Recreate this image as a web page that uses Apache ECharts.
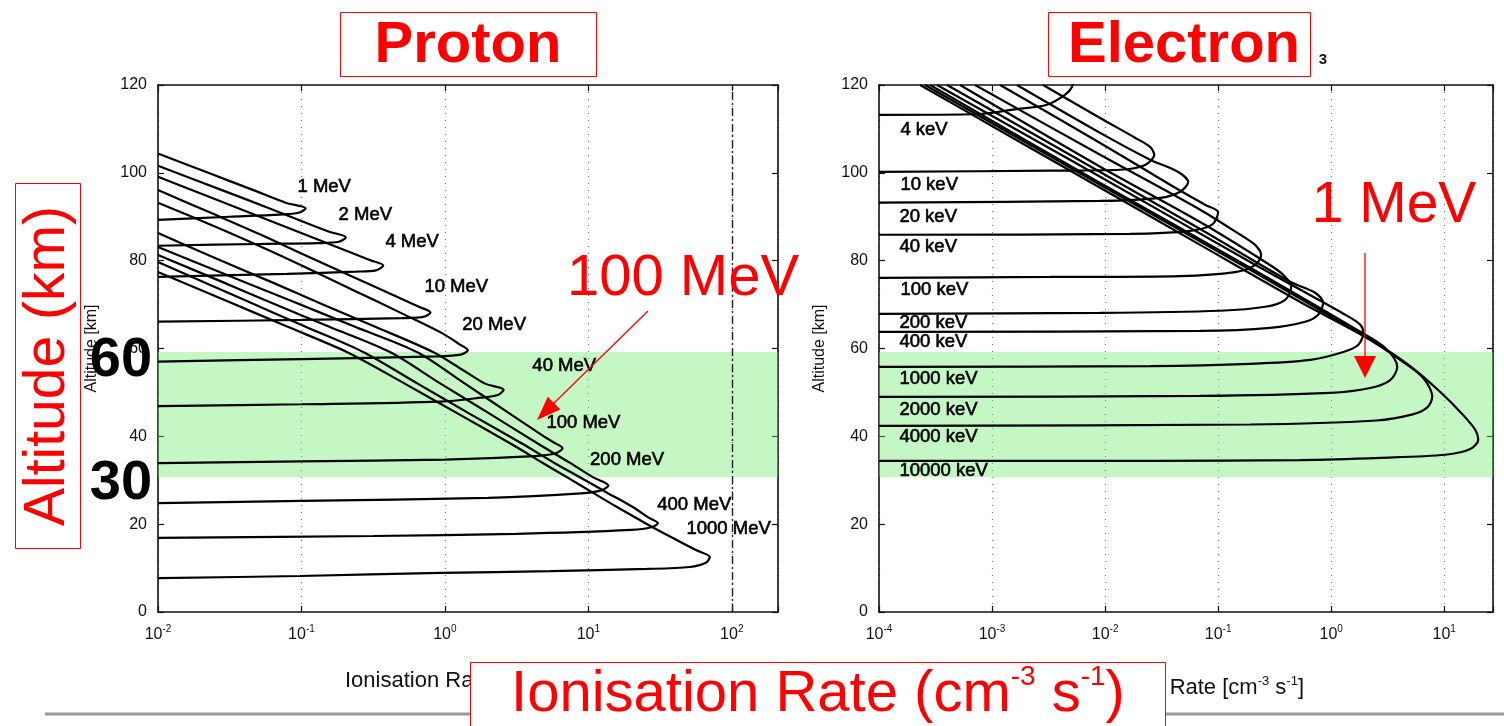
<!DOCTYPE html>
<html><head><meta charset="utf-8">
<script src="https://cdn.jsdelivr.net/npm/echarts@6/dist/echarts.min.js"></script>
<style>html,body{margin:0;padding:0;background:#fff}#c{width:1504px;height:726px}</style>
</head><body><div id="c"></div>
<script>
// ---------------- Proton ionisation profiles: [rate (cm^-3 s^-1), altitude (km)] ----------------
const protonNames = ['1 MeV','2 MeV','4 MeV','10 MeV','20 MeV','40 MeV','100 MeV','200 MeV','400 MeV','1000 MeV'];
const p1MeV = [[0.01,104.4],[0.0224,100],[0.0468,96],[0.0776,93.2],[0.107,91.9],[0.0955,90.9],[0.0708,90.5],[0.0316,90.0],[0.01,89.3]];
const p2MeV = [[0.01,101.6],[0.0282,96],[0.0589,92],[0.120,88],[0.156,86.6],[0.204,85.3],[0.182,84.3],[0.132,84.0],[0.0501,83.8],[0.01,83.4]];
const p4MeV = [[0.01,99.1],[0.0209,95],[0.0513,90],[0.126,85],[0.257,81],[0.302,80.1],[0.372,78.9],[0.331,77.8],[0.240,77.5],[0.0794,77.0],[0.01,76.3]];
const p10MeV = [[0.01,96.1],[0.0229,91],[0.0513,86],[0.110,81],[0.240,76],[0.447,72],[0.646,69.6],[0.794,68.2],[0.708,67.2],[0.501,66.9],[0.1,66.5],[0.01,66.1]];
const p20MeV = [[0.01,93.2],[0.0240,88],[0.0537,83],[0.115,78],[0.240,73],[0.501,68],[0.955,63.5],[1.259,61],[1.445,59.6],[1.288,58.6],[0.891,58.2],[0.1,57.6],[0.01,57.0]];
const p40MeV = [[0.01,86.3],[0.0234,81],[0.0631,75],[0.141,70],[0.324,65],[0.826,59.2],[1.349,55],[1.905,52],[2.57,50.6],[2.34,49.4],[1.78,48.8],[0.933,47.9],[0.1,47.3],[0.01,46.9]];
const p100MeV = [[0.01,83.1],[0.0269,77.4],[0.0813,71.1],[0.234,65],[0.638,59.2],[1.380,52],[2.884,45],[4.898,40],[5.754,38.6],[6.607,37.3],[5.89,36.1],[4.17,35.5],[1.0,34.7],[0.1,34.3],[0.01,33.9]];
const p200MeV = [[0.01,81.3],[0.0288,75],[0.0550,71.1],[0.155,65],[0.414,59.2],[0.933,52],[2.089,45],[4.467,38.3],[7.413,34],[10.74,30.7],[13.8,28.8],[12.3,27.7],[8.91,27.0],[2.0,26.0],[0.1,25.3],[0.01,24.8]];
const p400MeV = [[0.01,79.7],[0.0398,71.1],[0.106,65],[0.269,59.2],[0.646,52],[1.514,45],[3.467,38.3],[5.754,34],[8.730,30.7],[13.80,27],[20.42,23.9],[26.30,21.5],[30.55,20.2],[27.5,19.3],[20.0,18.7],[3.16,17.8],[0.316,17.3],[0.01,16.9]];
const p1000MeV = [[0.01,77.4],[0.0288,71.1],[0.0794,65],[0.207,59.2],[0.525,52],[1.259,45],[2.884,38.3],[4.786,34],[7.079,30.7],[10.96,27],[15.85,23.9],[25.70,20],[38.02,17],[56.23,14.1],[70.3,12.5],[65.9,11.2],[50.9,10.25],[25.6,9.8],[5.40,9.3],[0.938,8.9],[0.0977,8.2],[0.01,7.7]];
const protonLabelAnchors = [[0.0931,96.8],[0.180,90.4],[0.382,84.3],[0.714,74.0],[1.31,65.4],[4.04,56.0],[5.06,43.1],[10.2,34.6],[30.0,24.4],[47.9,18.9]];

// ---------------- Electron ionisation profiles ----------------
const electronNames = ['4 keV','10 keV','20 keV','40 keV','100 keV','200 keV','400 keV','1000 keV','2000 keV','4000 keV','10000 keV'];
const e4keV = [[0.0001,113.2],[0.000783,113.4],[0.00153,114.4],[0.00307,115.5],[0.00443,117.8],[0.0051,119.6],[0.00525,122]];
const e10keV = [[0.00283,120],[0.00904,112.5],[0.0184,108.0],[0.0250,105.9],[0.0272,104.1],[0.0226,101.8],[0.0136,100.7],[0.00326,100.5],[0.0001,100.2]];
const e20keV = [[0.00166,120],[0.00904,109.1],[0.0250,103.0],[0.0443,100.2],[0.0543,97.9],[0.0461,95.7],[0.0307,94.3],[0.00904,93.6],[0.0001,93.2]];
const e40keV = [[0.00118,120],[0.00904,106.8],[0.0376,97.3],[0.0767,92.7],[0.1,91.0],[0.0885,88.2],[0.0565,86.8],[0.0166,86.1],[0.0001,85.9]];
const e100keV = [[0.000708,120],[0.00904,104.1],[0.0693,91.6],[0.157,85.9],[0.212,83.6],[0.240,81.3],[0.212,79.0],[0.141,77.4],[0.0461,76.5],[0.00326,76.3],[0.0001,76.1]];
const e200keV = [[0.000521,120],[0.00904,101.4],[0.0693,88.8],[0.261,79.7],[0.376,76.8],[0.443,74.0],[0.392,71.1],[0.261,69.5],[0.104,68.6],[0.00904,68.1],[0.0001,67.9]];
const e400keV = [[0.000400,120],[0.00904,100.2],[0.0693,87.2],[0.434,75.2],[0.721,72.7],[0.849,70.4],[0.767,67.7],[0.589,66.1],[0.288,64.7],[0.0693,64.0],[0.0001,63.8]];
const e1000keV = [[0.000326,120],[0.00904,99.1],[0.192,79.7],[1.33,67.7],[1.81,65.4],[1.92,63.5],[1.73,60.8],[1.28,59.2],[0.652,57.4],[0.192,56.5],[0.0251,56.0],[0.0001,55.8]];
const e2000keV = [[0.000283,120],[0.00904,97.7],[0.192,78.4],[1.81,63.8],[3.01,60.1],[3.84,55.8],[3.33,52.8],[2.21,51.0],[0.979,49.9],[0.0693,49.2],[0.0001,49.0]];
const e4000keV = [[0.000255,120],[0.00904,97.3],[0.192,77.9],[2.21,62.0],[4.08,57.4],[6.52,53.3],[7.83,49.0],[7.08,46.6],[5.25,45.0],[2.51,43.6],[0.192,42.7],[0.0001,42.4]];
const e10000keV = [[0.000231,120],[0.00118,109.6],[0.00904,96.6],[0.0693,83.6],[0.532,70.6],[2.21,62.0],[5.0,56.0],[9.23,50.1],[14.4,45.1],[18.8,41.5],[20.0,39.2],[17.0,37.1],[10.2,35.8],[2.72,35.1],[0.532,34.6],[0.0251,34.4],[0.0001,34.4]];
const electronLabelAnchors = [[0.000153,109.8],[0.000153,97.3],[0.00015,90.0],[0.00015,83.1],[0.000153,73.3],[0.00015,65.8],[0.00015,61.5],[0.00015,53.1],[0.00015,46.0],[0.00015,39.9],[0.00015,32.1]];

// ---------------- Axes / band values ----------------
const protonXRange = [0.01, 210];
const electronXRange = [0.0001, 27];
const altitudeTicks = [0, 120, 20]; // min, max, step
const highlightBand = [59.2, 30.7]; // km
const protonRefLine = [100];

const FF = '"Liberation Sans", Arial, Helvetica, sans-serif';
const INK = '#111';

function powLabel(v){
  const e = Math.log10(v), r = Math.round(e);
  if (Math.abs(e - r) > 1e-6) return '';
  return '{b|10}{s|' + r + '}';
}
const tickRich = {
  b:{fontSize:16, fontFamily:FF, color:INK, lineHeight:22},
  s:{fontSize:10, fontFamily:FF, color:INK, verticalAlign:'top', lineHeight:12}
};
const axisLineStyle = {lineStyle:{color:INK, width:1.6}};

function xAx(grid, range, pos){
  const bottom = pos === 'bottom';
  return {
    type:'log', gridIndex:grid, position:pos, min:range[0], max:range[1], logBase:10,
    axisLine:{show:true, onZero:false, ...axisLineStyle},
    axisTick:{show:true, inside:true, length:6, lineStyle:{color:INK, width:1.2}},
    axisLabel:{show:bottom, margin:12, formatter:powLabel, rich:tickRich},
    splitLine:{show:bottom, lineStyle:{color:'#777', type:[1,6], width:1.2}}
  };
}
function yAx(grid, pos, gap){
  const left = pos === 'left';
  return {
    type:'value', gridIndex:grid, position:pos, min:altitudeTicks[0], max:altitudeTicks[1], interval:altitudeTicks[2],
    axisLine:{show:true, onZero:false, ...axisLineStyle},
    axisTick:{show:true, inside:true, length:6, lineStyle:{color:INK, width:1.2}},
    axisLabel:{show:left, margin:11, fontSize:16, fontFamily:FF, color:INK},
    splitLine:{show:false},
    name: left ? 'Altitude [km]' : '', nameLocation:'middle', nameRotate:90, nameGap:gap,
    nameTextStyle:{fontSize:16, fontFamily:FF, color:INK}
  };
}

const series = [];
function addCurves(list, xi, yi){
  list.forEach(d => series.push({
    type:'line', xAxisIndex:xi, yAxisIndex:yi, data:d, showSymbol:false, smooth:0.3,
    lineStyle:{color:'#000', width:2.2}, z:2, silent:true
  }));
}
addCurves([p1MeV,p2MeV,p4MeV,p10MeV,p20MeV,p40MeV,p100MeV,p200MeV,p400MeV,p1000MeV], 0, 0);
addCurves([e4keV,e10keV,e20keV,e40keV,e100keV,e200keV,e400keV,e1000keV,e2000keV,e4000keV,e10000keV], 2, 2);

function addLabels(names, anchors, xi, yi){
  series.push({
    type:'scatter', xAxisIndex:xi, yAxisIndex:yi, symbolSize:1, itemStyle:{color:'rgba(0,0,0,0)'}, z:3, silent:true,
    data: anchors.map((p,i)=>({name:names[i], value:p})),
    label:{show:true, position:'right', distance:0, formatter:'{b}', fontSize:18.5, fontFamily:FF, color:'#000',
      textBorderColor:'#000', textBorderWidth:0.6, opacity:1}
  });
}
addLabels(protonNames, protonLabelAnchors, 0, 0);
addLabels(electronNames, electronLabelAnchors, 2, 2);

// reference dashed line at 10^2 on proton panel
series.push({type:'line', xAxisIndex:0, yAxisIndex:0, data:[[1,-10]], showSymbol:false, lineStyle:{opacity:0}, z:1, silent:true,
  markLine:{silent:true, symbol:'none', label:{show:false}, lineStyle:{color:'#222', type:[8,3,2,3], width:1.4},
    data: protonRefLine.map(v=>({xAxis:v}))}});

// green highlight band
[[0,0],[2,2]].forEach(([xi,yi]) => series.push({
  type:'line', xAxisIndex:xi, yAxisIndex:yi, data:[[1,-10]], showSymbol:false, lineStyle:{opacity:0}, z:10, silent:true,
  markArea:{silent:true, itemStyle:{color:'rgba(110,235,110,0.40)'}, data:[[{yAxis:highlightBand[0]},{yAxis:highlightBand[1]}]]}
}));

function txt(x, y, text, font, fill, extra){
  return Object.assign({type:'text', x, y, z:60, style:{text, font, fill, align:'center', verticalAlign:'middle', textAlign:'center', textVerticalAlign:'middle'}}, extra||{});
}
const smallRich = {
  a:{fontSize:22, fontFamily:FF, color:INK, fill:INK, lineHeight:26},
  s:{fontSize:13, fontFamily:FF, color:INK, fill:INK, verticalAlign:'top', lineHeight:16}
};
const xNameText = '{a|Ionisation Rate [cm}{s|-3}{a| s}{s|-1}{a|]}';

const graphic = [
  {type:'line', z:50, shape:{x1:45, y1:714, x2:1504, y2:714}, style:{stroke:'#9a9a9a', lineWidth:3}},
  // original axis names (mostly hidden behind the big red label)
  {type:'text', x:345, y:681, z:55, style:{text:xNameText, rich:smallRich, align:'left', verticalAlign:'middle', textAlign:'left', textVerticalAlign:'middle'}},
  {type:'text', x:1304, y:688, z:55, style:{text:xNameText, rich:smallRich, align:'right', verticalAlign:'middle', textAlign:'right', textVerticalAlign:'middle'}},
  // Proton box
  {type:'rect', z:59, shape:{x:340.5, y:12.5, width:256, height:64}, style:{fill:'#fff', stroke:'#f00', lineWidth:1}},
  txt(468, 46, 'Proton', 'bold 58px ' + FF, '#f00'),
  // Electron box
  {type:'rect', z:59, shape:{x:1048.5, y:12.5, width:262, height:64}, style:{fill:'#fff', stroke:'#f00', lineWidth:1}},
  txt(1184, 46, 'Electron', 'bold 58px ' + FF, '#f00'),
  txt(1323, 60, '3', 'bold 15px ' + FF, INK),
  // Altitude box
  {type:'rect', z:59, shape:{x:15.5, y:183.5, width:65, height:365}, style:{fill:'rgba(255,255,255,0)', stroke:'#f00', lineWidth:1}},
  txt(48, 366, 'Altitude (km)', '57px ' + FF, '#f00', {rotation:Math.PI/2}),
  // big 60 / 30
  txt(121, 361, '60', 'bold 56px ' + FF, '#000'),
  txt(121, 484, '30', 'bold 56px ' + FF, '#000'),
  // x label box
  {type:'rect', z:59, shape:{x:470.5, y:662.5, width:695, height:70}, style:{fill:'#fff', stroke:'#f00', lineWidth:1}},
  {type:'text', x:818, y:695, z:60, style:{
    text:'{a|Ionisation Rate (cm}{s|-3}{a| s}{s|-1}{a|)}', align:'center', verticalAlign:'middle', textAlign:'center', textVerticalAlign:'middle',
    rich:{a:{fontSize:58, fontFamily:FF, fill:'#f00', color:'#f00', lineHeight:64}, s:{fontSize:28, fontFamily:FF, fill:'#f00', color:'#f00', verticalAlign:'top', lineHeight:42}}
  }},
  // 100 MeV annotation
  txt(683, 279, '100 MeV', '58px ' + FF, '#f00'),
  {type:'line', z:60, shape:{x1:648, y1:311, x2:550, y2:407}, style:{stroke:'#f00', lineWidth:1.3}},
  {type:'polygon', z:60, shape:{points:[[537,420],[560.4,409.6],[547.8,396.8]]}, style:{fill:'#f00'}},
  // 1 MeV annotation
  txt(1394, 206, '1 MeV', '57px ' + FF, '#f00'),
  {type:'line', z:60, shape:{x1:1365, y1:253, x2:1365, y2:360}, style:{stroke:'#f00', lineWidth:1.3}},
  {type:'polygon', z:60, shape:{points:[[1365,378],[1354,356],[1376,356]]}, style:{fill:'#f00'}}
];

const chart = echarts.init(document.getElementById('c'), null, {renderer:'canvas'});
chart.setOption({
  animation:false,
  backgroundColor:'#fff',
  grid:[
    {left:158, top:85, width:620, height:527},
    {left:879, top:85, width:614, height:527}
  ],
  xAxis:[xAx(0, protonXRange, 'bottom'), xAx(0, protonXRange, 'top'), xAx(1, electronXRange, 'bottom'), xAx(1, electronXRange, 'top')],
  yAxis:[yAx(0,'left',58), yAx(0,'right',0), yAx(1,'left',51), yAx(1,'right',0)],
  series,
  graphic
});
</script>
</body></html>
